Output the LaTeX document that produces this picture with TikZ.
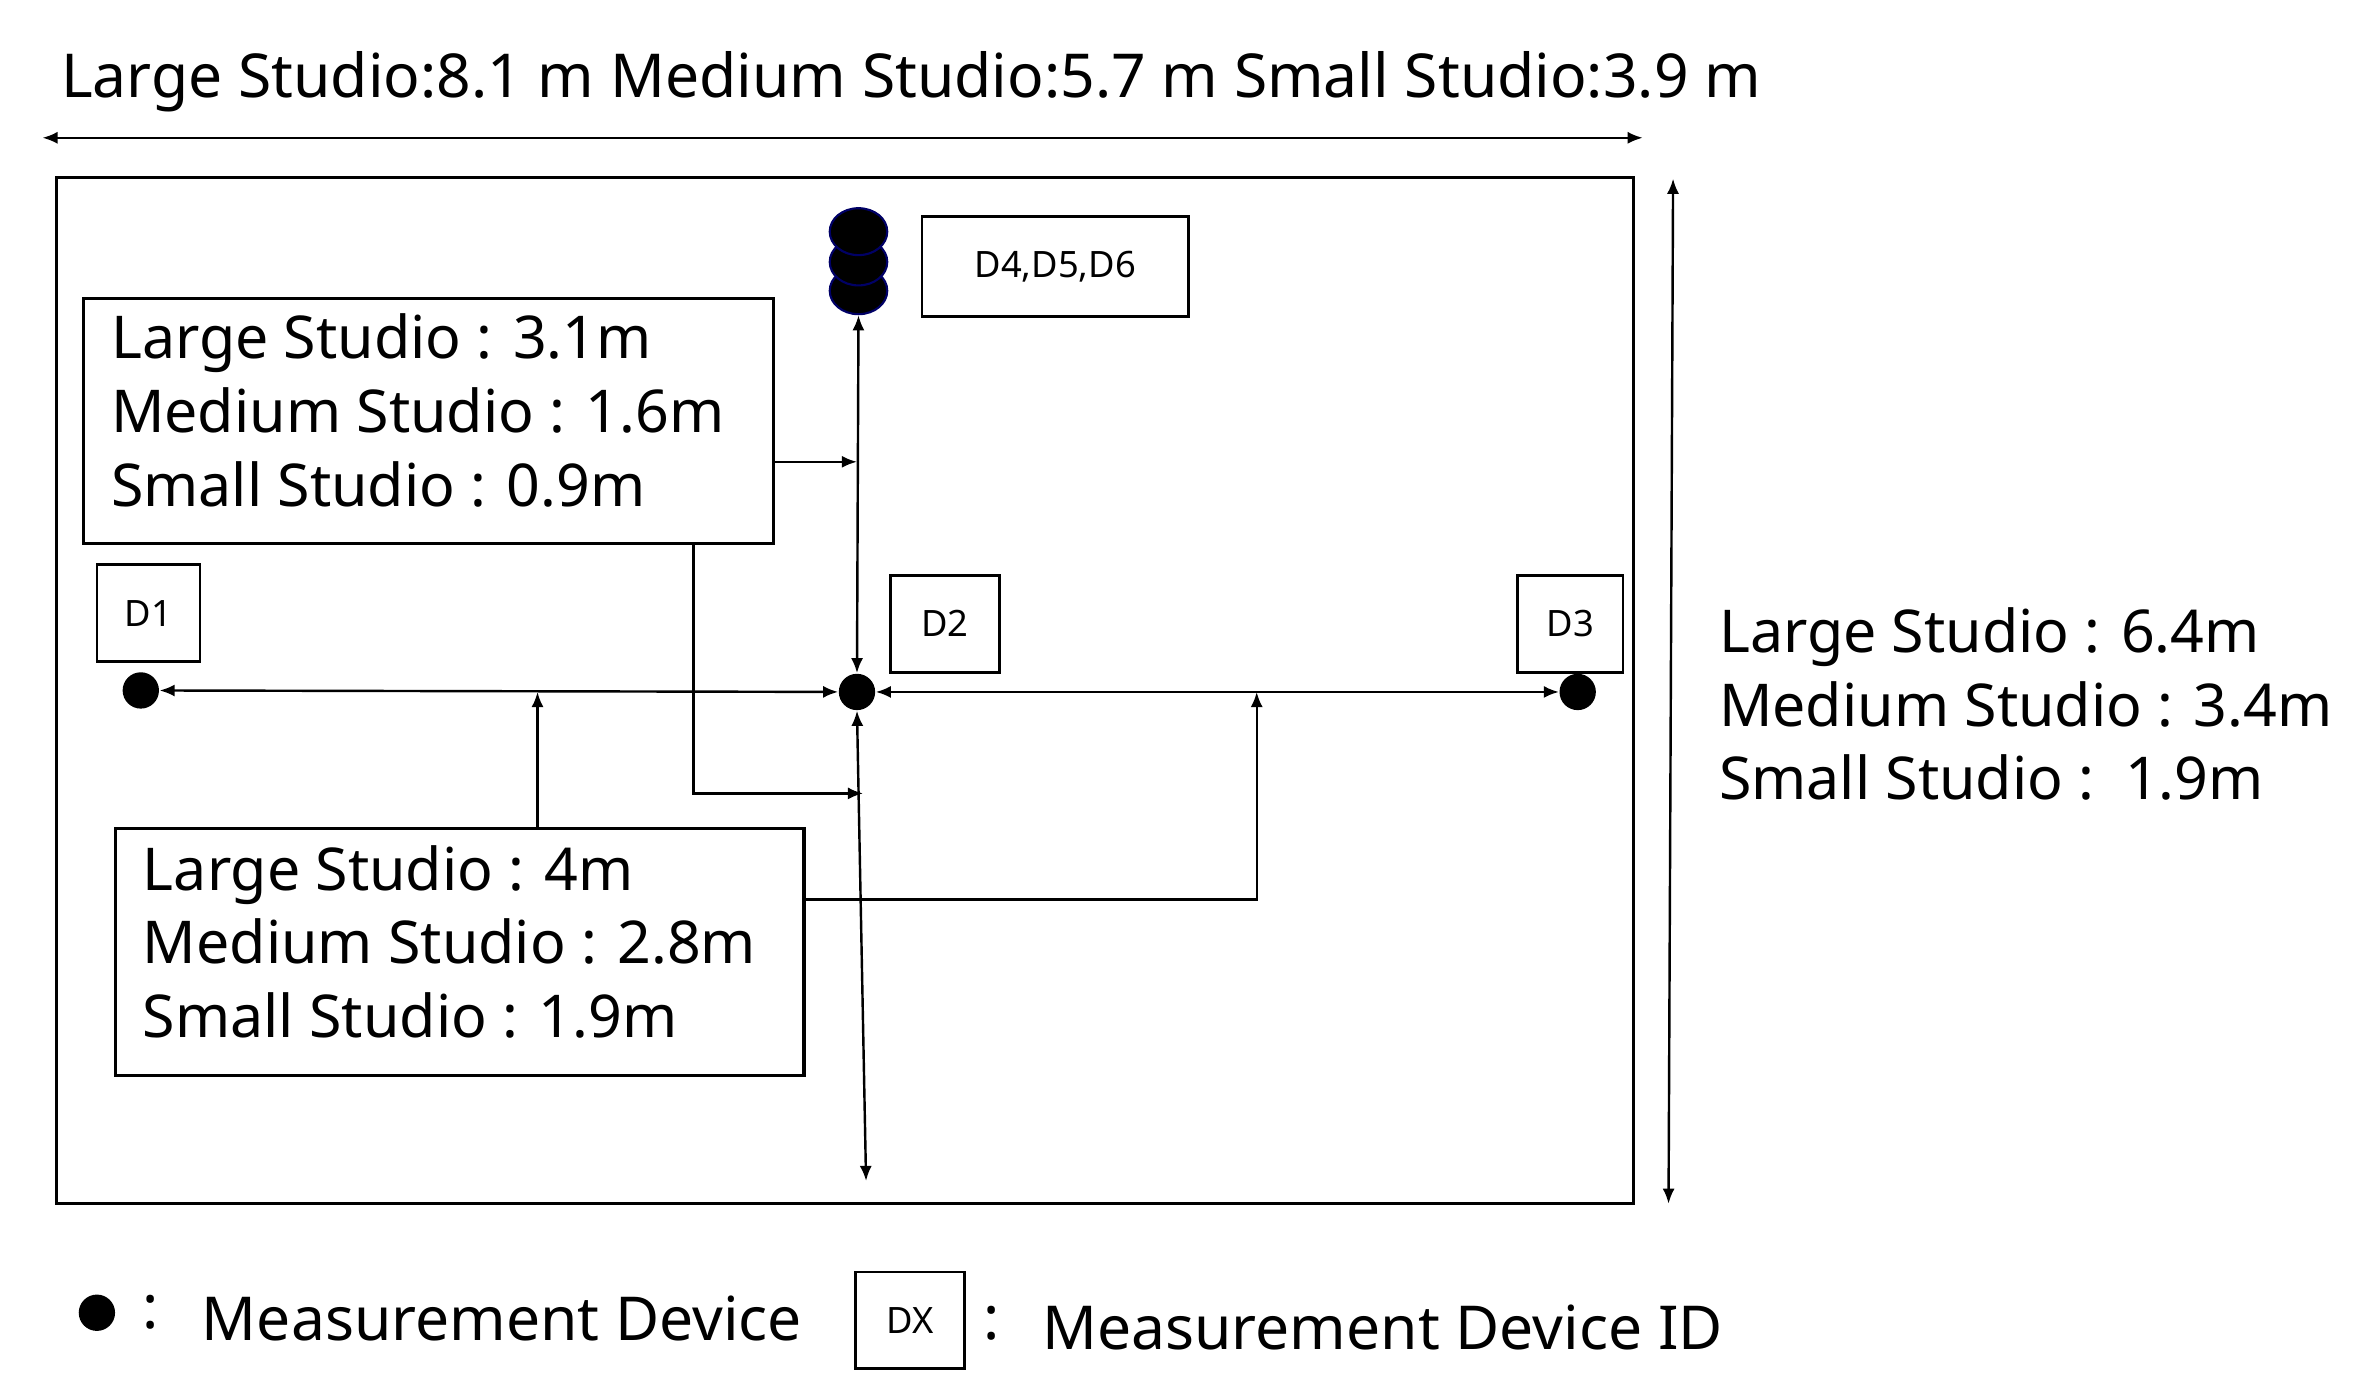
\documentclass[tikz,border=0pt]{standalone}
\usepackage{fontspec}
\setmainfont{Noto Sans}
\usetikzlibrary{arrows.meta,shapes.geometric}
\begin{document}
\begin{tikzpicture}[x=0.5pt,y=-0.5pt,
  ln/.style={line width=0.8pt},
  arr/.style={ln,-{Latex[length=5pt,width=4pt]}},
  darr/.style={ln,{Latex[length=5pt,width=4pt]}-{Latex[length=5pt,width=4pt]}},
  big/.style={font=\fontsize{20}{24}\selectfont,anchor=west,inner sep=0},
  txt/.style={font=\fontsize{19.5}{24.3}\selectfont,align=left,anchor=north west,inner sep=0},
  lab/.style={draw,line width=0.9pt,font=\fontsize{12}{14}\selectfont,inner sep=0},
  dot/.style={circle,fill=black,inner sep=0,minimum size=12pt},
  dev/.style={ellipse,fill=black,draw=blue!40!black,line width=0.7pt,minimum width=19pt,minimum height=15.5pt,inner sep=0}]
\useasboundingbox (0,0) rectangle (1560,912);
\node[big] (top) at (40,54) {Large Studio:8.1 m Medium Studio:5.7 m Small Studio:3.9 m};
\coordinate (hl) at (28,91); \coordinate (hr) at (1085,91);
\draw[darr] (hl) -- (hr);
\draw[line width=1pt] (37,117) rectangle (1079,795);
\coordinate (vt) at (1105,118); \coordinate (vb) at (1102,795);
\draw[darr] (vt) -- (vb);
\node[txt] (right) at (1135,401) {Large Studio : 6.4m\\Medium Studio : 3.4m\\Small Studio :\ \ 1.9m};
% stacked devices
\node[dev] (d6) at (567,192) {};
\node[dev] (d5) at (567,173) {};
\node[dev] (d4) at (567,153) {};
\node[lab,minimum width=88pt,minimum height=33pt] (L456) at (697,176) {D4,D5,D6};
% box1
\node[draw,line width=1pt,minimum width=228pt,minimum height=81pt,inner sep=0] (b1) at (283,278) {};
\node[txt] (t1) at (73,207) {Large Studio : 3.1m\\Medium Studio : 1.6m\\Small Studio : 0.9m};
% dots
\node[dot] (p1) at (93,456) {};
\node[dot] (p2) at (566,457) {};
\node[dot] (p3) at (1042,457) {};
\node[lab,minimum width=34pt,minimum height=32pt] (L1) at (98,405) {D1};
\node[lab,minimum width=36pt,minimum height=32pt] (L2) at (624,412) {D2};
\node[lab,minimum width=35pt,minimum height=32pt] (L3) at (1037,412) {D3};
\draw[darr] (d6.south) -- (p2.north);
\draw[darr] (p1) -- (p2);
\draw[darr] (p2) -- (p3);
\coordinate (a1) at (566,305);
\draw[arr] (b1.east |- a1) -- (a1);
\coordinate (bot) at (572,780);
\draw[darr] (p2.south) -- (bot);
% box2
\node[draw,line width=1pt,minimum width=227.5pt,minimum height=81.5pt,inner sep=0] (b2) at (303.5,628.5) {};
\node[txt] (t2) at (94,558) {Large Studio : 4m\\Medium Studio : 2.8m\\Small Studio : 1.9m};
\coordinate (m1) at (355,457);
\draw[arr] (b2.north -| m1) -- (m1);
\coordinate (k1) at (458,524); \coordinate (k2) at (570,524);
\draw[arr] (b1.south -| k1) -- (k1) -- (k2);
\coordinate (r1) at (830,594); \coordinate (r2) at (830,457);
\draw[arr] (b2.east |- r1) -- (r1) -- (r2);
% legend
\node[dot] (ld) at (64,867) {};
\node[big] (c1) at (94,867) {:};
\node[big] (lt1) at (133,871) {Measurement Device};
\node[lab,minimum width=36pt,minimum height=32pt] (LX) at (601,872) {DX};
\node[big] (c2) at (649,874) {:};
\node[big] (lt2) at (688,877) {Measurement Device ID};
\end{tikzpicture}
\end{document}
